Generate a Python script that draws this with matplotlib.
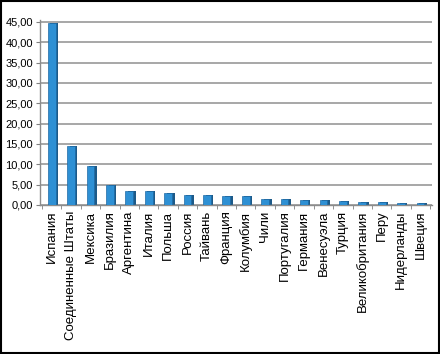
import matplotlib
matplotlib.use("Agg")
import matplotlib.pyplot as plt
from matplotlib.patches import Rectangle
import numpy as np

countries = ["Испания", "Соединенные Штаты", "Мексика", "Бразилия", "Аргентина",
             "Италия", "Польша", "Россия", "Тайвань", "Франция", "Колумбия", "Чили",
             "Португалия", "Германия", "Венесуэла", "Турция", "Великобритания",
             "Перу", "Нидерланды", "Швеция"]
values = [44.6, 14.5, 9.5, 5.0, 3.4, 3.4, 3.0, 2.4, 2.4, 2.2, 2.1, 1.5, 1.4,
          1.2, 1.1, 1.0, 0.8, 0.7, 0.6, 0.6]
yticks = [0, 5, 10, 15, 20, 25, 30, 35, 40, 45]
ytick_labels = ["0,00", "5,00", "10,00", "15,00", "20,00", "25,00", "30,00",
                "35,00", "40,00", "45,00"]

plt.rcParams['font.family'] = ['Liberation Sans', 'DejaVu Sans']

fig = plt.figure(figsize=(4.4, 3.54), dpi=100)
ax = fig.add_axes([0.091, 0.421, 0.891, 0.523])

x = np.arange(len(countries))
w = 0.4
ax.bar(x + 0.13, values, width=w, color="#1d5a88", zorder=2)
ax.bar(x, values, width=w, color="#2e90d4", edgecolor="#1f6aa5", linewidth=0.5, zorder=3)

ax.set_xlim(-0.6, len(countries) - 0.4)
ax.set_ylim(0, 45.5)
ax.set_yticks(yticks)
ax.set_yticklabels(ytick_labels, fontsize=8)
ax.yaxis.grid(True, color="#a0a0a0", linewidth=1.3, zorder=0)
ax.set_axisbelow(True)

ax.set_xticks(x)
ax.set_xticklabels(countries, rotation=90, fontsize=9.5)
ax.tick_params(axis='x', length=0, pad=4)
ax.set_xticks(np.arange(len(countries) + 1) - 0.5, minor=True)
ax.tick_params(axis='x', which='minor', length=3, color="#808080")
ax.tick_params(axis='y', length=3, color="#808080", pad=2)

for s in ["top", "right"]:
    ax.spines[s].set_visible(False)
for s in ["left", "bottom"]:
    ax.spines[s].set_color("#8c8c8c")
    ax.spines[s].set_linewidth(1.0)

fig.patches.append(Rectangle((0.002, 0.003), 0.995, 0.994, transform=fig.transFigure,
                             fill=False, edgecolor="black", linewidth=1.5))

fig.savefig("out.png", dpi=100)
